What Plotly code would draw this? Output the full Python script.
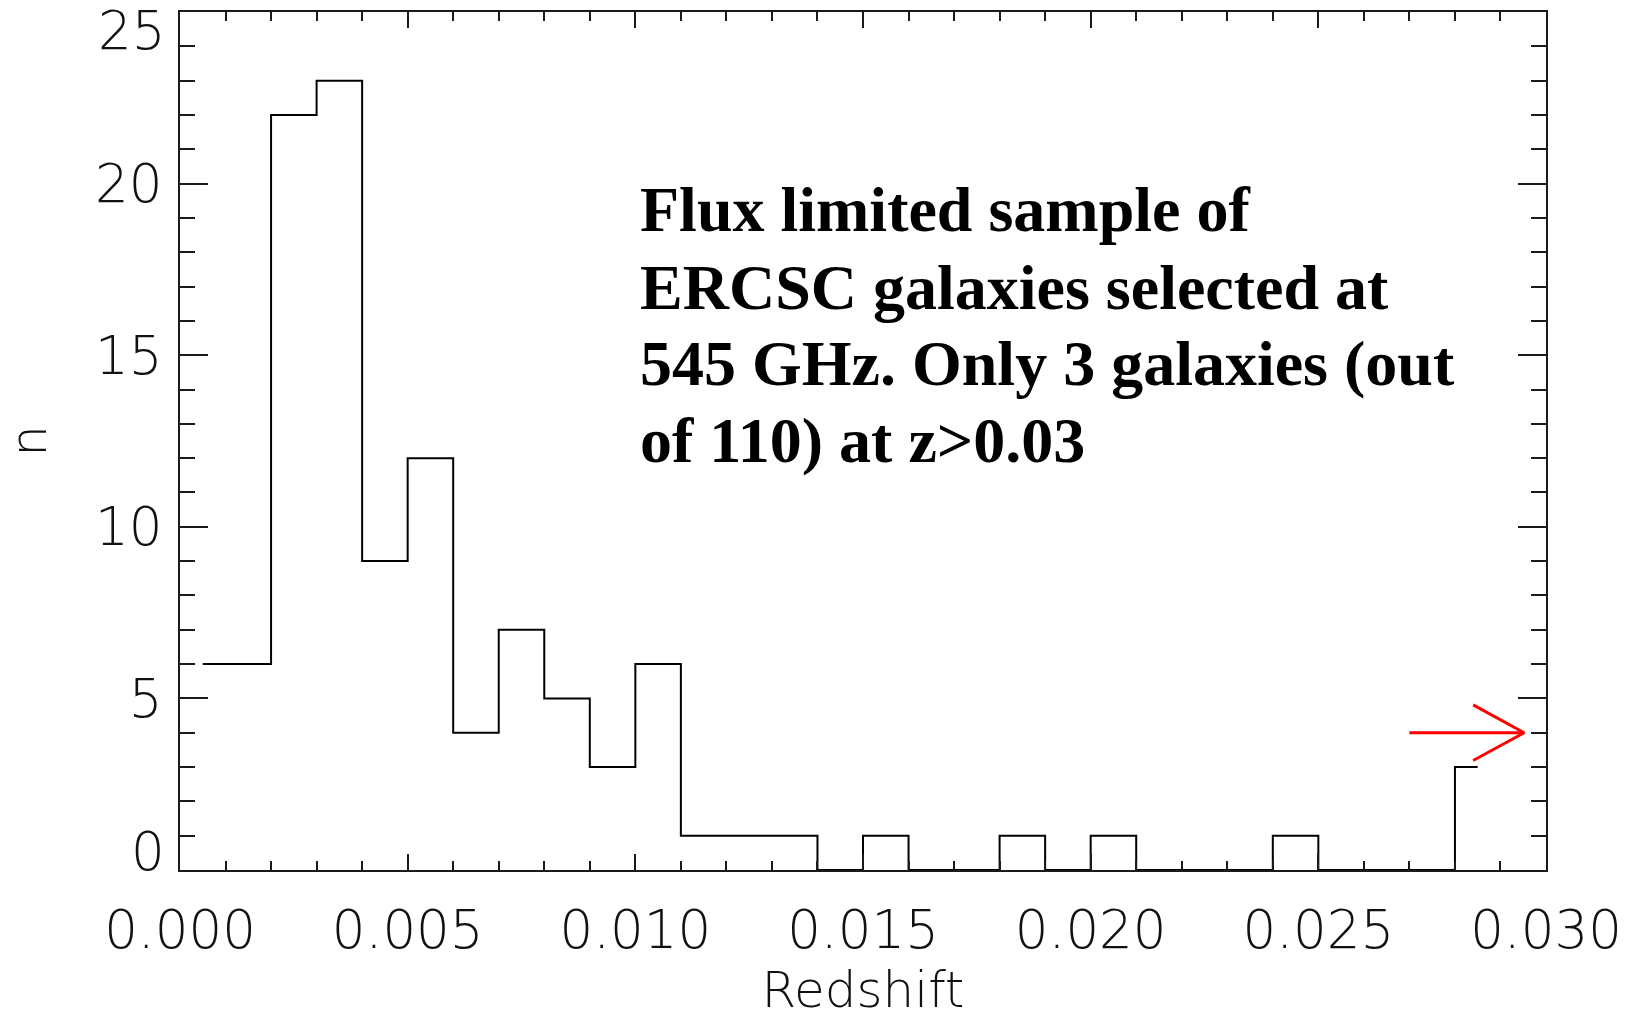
import plotly.graph_objects as go

# Histogram of redshifts: bin centres (width 0.001) and galaxy counts per bin
bin_centers = [0.0005, 0.0015, 0.0025, 0.0035, 0.0045, 0.0055, 0.0065, 0.0075,
               0.0085, 0.0095, 0.0105, 0.0115, 0.0125, 0.0135, 0.0145, 0.0155,
               0.0165, 0.0175, 0.0185, 0.0195, 0.0205, 0.0215, 0.0225, 0.0235,
               0.0245, 0.0255, 0.0265, 0.0275, 0.0285]
counts = [6, 6, 22, 23, 9, 12, 4, 7, 5, 3, 6, 1, 1, 1, 0, 1, 0, 0, 1, 0, 1,
          0, 0, 0, 1, 0, 0, 0, 3]

x_tick_vals = [0.000, 0.005, 0.010, 0.015, 0.020, 0.025, 0.030]
x_tick_text = ["0.000", "0.005", "0.010", "0.015", "0.020", "0.025", "0.030"]
y_tick_vals = [5, 10, 15, 20]
y_tick_text = ["5", "10", "15", "20"]
y_end_labels = [(0, "0"), (25, "25")]

# Arrow pointing to the galaxies beyond the plotted range
arrow_y = 4.0
arrow_tail_x = 0.0270
arrow_tip_x = 0.02952
arrow_head_x = 0.02840
arrow_head_dy = 0.81

note_lines = [
    "Flux limited sample of",
    "ERCSC galaxies selected at",
    "545 GHz. Only 3 galaxies (out",
    "of 110) at z>0.03",
]

W, H = 1641, 1020
M_L, M_R, M_T, M_B = 180, 95, 12, 150
plot_h = H - M_T - M_B

AXIS_COLOR = "#1a1a1a"
TICK_FONT = dict(family="DejaVu Sans", size=53, color="#111", weight=200)
TITLE_FONT = dict(family="DejaVu Sans", size=50, color="#111", weight=200)

fig = go.Figure()

fig.add_trace(go.Scatter(
    x=bin_centers, y=counts, mode="lines",
    line=dict(color="black", width=2, shape="hvh"),
    showlegend=False, hoverinfo="skip",
))

fig.add_trace(go.Scatter(
    x=[arrow_tail_x, arrow_tip_x, None, arrow_head_x, arrow_tip_x, arrow_head_x],
    y=[arrow_y, arrow_y, None, arrow_y + arrow_head_dy, arrow_y, arrow_y - arrow_head_dy],
    mode="lines", line=dict(color="#ff0000", width=3),
    showlegend=False, hoverinfo="skip", cliponaxis=False,
))

fig.update_xaxes(
    range=[0, 0.030], tickmode="array", tickvals=x_tick_vals, ticktext=x_tick_text,
    ticks="inside", ticklen=16, tickwidth=2, tickcolor=AXIS_COLOR,
    minor=dict(ticks="inside", ticklen=9, tickwidth=2, tickcolor=AXIS_COLOR,
               dtick=0.001, tick0=0, showgrid=False),
    showline=True, linecolor=AXIS_COLOR, linewidth=2, mirror="ticks",
    showgrid=False, zeroline=False, tickfont=TICK_FONT, ticklabelstandoff=12,
    automargin=False,
    title=dict(text="Redshift", font=TITLE_FONT, standoff=13),
)
fig.update_yaxes(
    range=[0, 25], tickmode="array", tickvals=y_tick_vals, ticktext=y_tick_text,
    ticks="inside", ticklen=28, tickwidth=2, tickcolor=AXIS_COLOR,
    minor=dict(ticks="inside", ticklen=15, tickwidth=2, tickcolor=AXIS_COLOR,
               dtick=1, tick0=0, showgrid=False),
    showline=True, linecolor=AXIS_COLOR, linewidth=2, mirror="ticks",
    showgrid=False, zeroline=False, tickfont=TICK_FONT, ticklabelstandoff=5,
    automargin=False,
    title=dict(text="n", font=TITLE_FONT, standoff=64),
)

# End labels of the y axis sit inside the axis extent
for val, txt in y_end_labels:
    fig.add_annotation(
        x=0, xref="paper", y=val, yref="y", text=txt, showarrow=False,
        xanchor="right", yanchor="bottom" if val == 0 else "top",
        xshift=-14, yshift=-13 if val == 0 else 13, borderpad=0,
        font=TICK_FONT,
    )

# Descriptive note, one annotation per line
line_centers_px = [210, 287, 363, 440]
for txt, yc in zip(note_lines, line_centers_px):
    fig.add_annotation(
        x=(638 - M_L) / (W - M_L - M_R), xref="paper",
        y=(H - M_B - yc) / plot_h, yref="paper",
        text=f"<b>{txt}</b>", showarrow=False, xanchor="left", yanchor="middle",
        font=dict(family="Liberation Serif", size=64, color="black"),
    )

fig.update_layout(
    width=W, height=H, margin=dict(l=M_L, r=M_R, t=M_T, b=M_B),
    paper_bgcolor="white", plot_bgcolor="white",
)

fig.write_html("out.html")
